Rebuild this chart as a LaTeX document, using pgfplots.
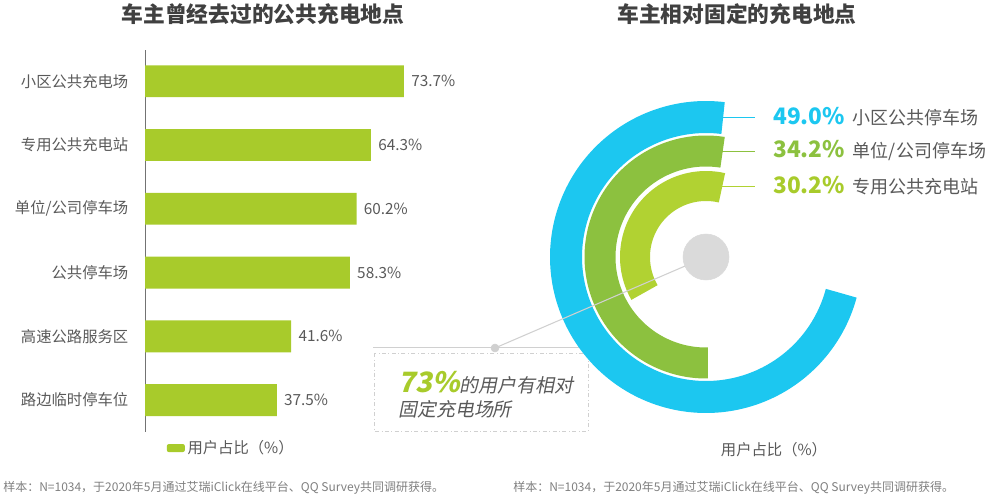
\documentclass[border=0pt]{standalone}
\usepackage{fontspec}
\usepackage{pgfplots}
\pgfplotsset{compat=1.18}
\setmainfont{Noto Sans CJK SC}
\newfontfamily\cjkit{Noto Sans CJK SC}[FakeSlant=0.2, BoldFeatures={FakeSlant=0.2}]

\definecolor{barlime}{HTML}{A8CB2B}
\definecolor{ringblue}{HTML}{1CC7F0}
\definecolor{ringgreen}{HTML}{8CC13F}
\definecolor{ringlime}{HTML}{B1D232}
\definecolor{txtgray}{HTML}{595959}
\definecolor{txtdark}{HTML}{404040}
\definecolor{notegray}{HTML}{7F7F7F}
\definecolor{linegray}{HTML}{D0D0D0}
\definecolor{circgray}{HTML}{DADADA}

\begin{document}
\begin{tikzpicture}
\path[use as bounding box] (0,0) rectangle (744pt,-375pt);

% ---------- left: places that owners have used ----------
\begin{axis}[
  at={(108.75pt,-324pt)}, anchor=south west,
  scale only axis, width=263.55pt, height=286.5pt,
  xmin=0, xmax=100, ymin=-0.49, ymax=5.5, y dir=reverse,
  xbar, bar width=0.5,
  axis x line=none, axis y line=left,
  y axis line style={-, draw=black!55, line width=0.6pt},
  ytick={0,...,5},
  yticklabels={小区公共充电场,专用公共充电站,单位/公司停车场,公共停车场,高速公路服务区,路边临时停车位},
  major tick length=0pt,
  yticklabel style={font=\fontsize{11.5}{13}\selectfont, text=txtgray, xshift=-9pt},
  point meta=x,
  nodes near coords={\pgfmathprintnumber[fixed,fixed zerofill,precision=1,assume math mode=true]{\pgfplotspointmeta}\%},
  nodes near coords style={font=\fontsize{11.5}{13}\selectfont, text=txtgray, xshift=2pt},
  legend style={draw=none, fill=none, at={(axis description cs:0.05,-0.042)}, anchor=west,
    font=\fontsize{11.5}{13}\selectfont, text=txtgray},
  legend image code/.code={\fill[#1, rounded corners=1.5pt] (0pt,-3pt) rectangle (13.5pt,3pt);},
]
\addplot[fill=barlime, draw=none] coordinates {(73.7,0) (64.3,1) (60.2,2) (58.3,3) (41.6,4) (37.5,5)};
\addlegendentry{用户占比（\%）}
\end{axis}

% ---------- right: regular charging places ----------
\begin{axis}[
  at={(529.5pt,-192.75pt)}, anchor=origin,
  x=0.75pt, y=0.75pt, xmin=-170, xmax=170, ymin=-170, ymax=170,
  hide axis, clip=false,
]
% callout frame
\draw[linegray, line width=0.7pt] (axis cs:-333,-90) -- (axis cs:-119,-90);
\draw[linegray, dash dot, line width=0.7pt] (axis cs:-332,-96) rectangle (axis cs:-118,-174);
% rings: radius, band width, start and end angle
\addplot[ringblue, line width=24pt, line cap=butt, line join=round, domain=83:345, samples=160] ({140*cos(x)},{140*sin(x)});
\addplot[ringgreen, line width=23.25pt, line cap=butt, line join=round, domain=81:271, samples=130] ({106*cos(x)},{106*sin(x)});
\addplot[ringlime, line width=22.5pt, line cap=butt, line join=round, domain=77:210, samples=100] ({71*cos(x)},{71*sin(x)});
% leader lines to the labels
\addplot[ringblue, line width=0.75pt] coordinates {(16,140) (49,140)};
\addplot[ringgreen, line width=0.75pt] coordinates {(16,106) (49,106)};
\addplot[ringlime, line width=0.75pt] coordinates {(16,71) (49,71)};
% connector to the callout
\addplot[linegray, line width=0.8pt] coordinates {(0,0) (-211,-91)};
\addplot[linegray, only marks, mark=*, mark size=3pt, mark options={draw=linegray, fill=linegray}] coordinates {(-211,-91)};
\addplot[circgray, only marks, mark=*, mark size=17.25pt, mark options={draw=circgray, fill=circgray}] coordinates {(0,0)};
\node[anchor=west, inner sep=0pt] at (axis cs:67,140) {{\bfseries\fontsize{17}{20}\selectfont\color{ringblue}49.0\%}\hspace{6pt}{\fontsize{13.5}{16}\selectfont\color{txtgray}小区公共停车场}};
\node[anchor=west, inner sep=0pt] at (axis cs:67,106) {{\bfseries\fontsize{17}{20}\selectfont\color{ringgreen}34.2\%}\hspace{6pt}{\fontsize{13.5}{16}\selectfont\color{txtgray}单位/公司停车场}};
\node[anchor=west, inner sep=0pt] at (axis cs:67,71) {{\bfseries\fontsize{17}{20}\selectfont\color{barlime}30.2\%}\hspace{6pt}{\fontsize{13.5}{16}\selectfont\color{txtgray}专用公共充电站}};
\end{axis}

% ---------- titles and notes ----------
\begin{scope}[x=0.75pt, y=-0.75pt]
\node[font=\bfseries\fontsize{16.3}{19}\selectfont, text=txtdark] at (263,14) {车主曾经去过的公共充电地点};
\node[font=\bfseries\fontsize{16.3}{19}\selectfont, text=txtdark] at (737,14) {车主相对固定的充电地点};
\node[anchor=west, inner sep=0pt] at (398,383) {{\cjkit\bfseries\fontsize{21}{24}\selectfont\color{barlime}73\%}{\cjkit\fontsize{14.2}{17}\selectfont\color{txtgray}的用户有相对}};
\node[anchor=west, inner sep=0pt] at (398,409) {\cjkit\fontsize{14.2}{17}\selectfont\color{txtgray}固定充电场所};
\node[font=\fontsize{11.5}{13}\selectfont, text=txtgray] at (774,450) {用户占比（\%）};
\node[anchor=west, inner sep=0pt, font=\fontsize{9}{11}\selectfont, text=notegray] at (3,488) {样本：N=1034，于2020年5月通过艾瑞iClick在线平台、QQ Survey共同调研获得。};
\node[anchor=west, inner sep=0pt, font=\fontsize{9}{11}\selectfont, text=notegray] at (513,488) {样本：N=1034，于2020年5月通过艾瑞iClick在线平台、QQ Survey共同调研获得。};
\end{scope}
\end{tikzpicture}
\end{document}
